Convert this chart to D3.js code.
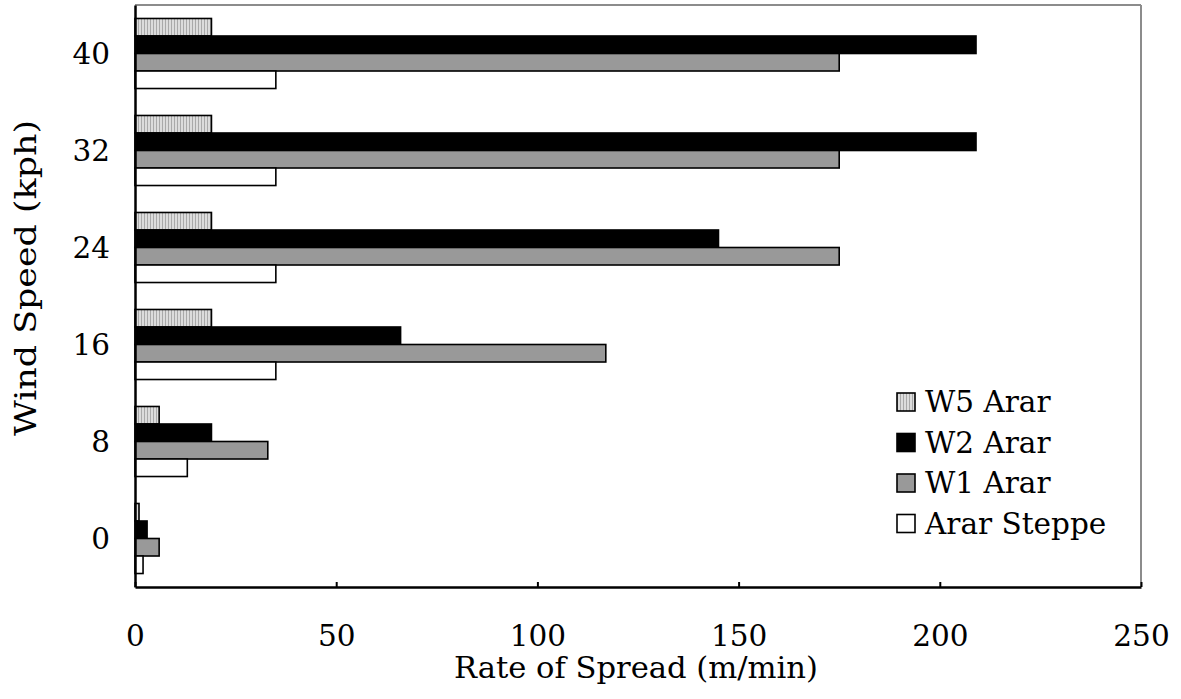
<!DOCTYPE html>
<html>
<head>
<meta charset="utf-8">
<script src="https://cdn.jsdelivr.net/npm/d3@7"></script>
<style>
  html, body { margin: 0; padding: 0; background: #fff; }
  svg { display: block; }
  text { font-family: "DejaVu Serif", serif; fill: #000; }
</style>
</head>
<body>
<svg id="chart" width="1181" height="699"></svg>
<script>
// Wind speed categories (top to bottom) and rate-of-spread series (m/min)
const windSpeeds = ["40", "32", "24", "16", "8", "0"];
const seriesNames = ["W5 Arar", "W2 Arar", "W1 Arar", "Arar Steppe"];
const w5Arar      = [19, 19, 19, 19, 6, 1];
const w2Arar      = [209, 209, 145, 66, 19, 3];
const w1Arar      = [175, 175, 175, 117, 33, 6];
const ararSteppe  = [35, 35, 35, 35, 13, 2];
const xTicks = [0, 50, 100, 150, 200, 250];

const seriesValues = [w5Arar, w2Arar, w1Arar, ararSteppe];
const fills = ["url(#stripes)", "#000000", "#999999", "#ffffff"];

const svg = d3.select("#chart");
const margin = { left: 135, right: 1141, top: 5, bottom: 587 };
const fontSize = "29.5px";

// Fine vertical stripe fill for the W5 series
const defs = svg.append("defs");
const pat = defs.append("pattern")
  .attr("id", "stripes")
  .attr("patternUnits", "userSpaceOnUse")
  .attr("width", 3).attr("height", 3);
pat.append("rect").attr("width", 3).attr("height", 3).attr("fill", "#dcdcdc");
pat.append("rect").attr("x", 0).attr("width", 1).attr("height", 3).attr("fill", "#a9a9a9");

const x = d3.scaleLinear().domain([0, 250]).range([margin.left, margin.right]);
const y = d3.scaleBand().domain(windSpeeds)
  .range([margin.top, margin.bottom])
  .paddingInner(0.278).paddingOuter(0.139);
const ySub = d3.scaleBand().domain(seriesNames).range([0, y.bandwidth()]);

// Plot frame: grey top/right border
svg.append("line")
  .attr("x1", margin.left).attr("x2", margin.right)
  .attr("y1", margin.top).attr("y2", margin.top)
  .attr("stroke", "#8c8c8c").attr("stroke-width", 2);
svg.append("line")
  .attr("x1", margin.right).attr("x2", margin.right)
  .attr("y1", margin.top).attr("y2", margin.bottom)
  .attr("stroke", "#8c8c8c").attr("stroke-width", 2);

// Bars
const rows = windSpeeds.map((w, i) => ({ w, vals: seriesValues.map((s, j) => ({ name: seriesNames[j], v: s[i], fill: fills[j] })) }));
const groups = svg.append("g").selectAll("g").data(rows).join("g")
  .attr("transform", d => `translate(0,${y(d.w)})`);
groups.selectAll("rect").data(d => d.vals).join("rect")
  .attr("x", x(0))
  .attr("y", d => ySub(d.name))
  .attr("width", d => x(d.v) - x(0))
  .attr("height", ySub.bandwidth())
  .attr("fill", d => d.fill)
  .attr("stroke", "#000")
  .attr("stroke-width", 1.6);

// X axis with inward ticks
const xAxis = svg.append("g")
  .attr("transform", `translate(0,${margin.bottom})`)
  .call(d3.axisBottom(x).tickValues(xTicks).tickSizeInner(-5).tickSizeOuter(0).tickPadding(0));
xAxis.select(".domain").attr("stroke", "#000").attr("stroke-width", 2.5);
xAxis.selectAll(".tick line").attr("stroke", "#000").attr("stroke-width", 2);
xAxis.selectAll(".tick text")
  .attr("y", 59).attr("dy", null)
  .style("font-family", "DejaVu Serif").style("font-size", fontSize);

// Y axis
const yAxis = svg.append("g")
  .attr("transform", `translate(${margin.left},0)`)
  .call(d3.axisLeft(y).tickSize(0).tickPadding(0));
yAxis.select(".domain").attr("stroke", "#000").attr("stroke-width", 2.5);
yAxis.selectAll(".tick text")
  .attr("x", -25).attr("dy", "0.36em")
  .style("font-family", "DejaVu Serif").style("font-size", fontSize);

// Axis titles
svg.append("text")
  .attr("x", 636).attr("y", 678)
  .attr("text-anchor", "middle")
  .attr("textLength", 364).attr("lengthAdjust", "spacingAndGlyphs")
  .style("font-size", fontSize)
  .text("Rate of Spread (m/min)");
svg.append("text")
  .attr("transform", "translate(36,278) rotate(-90)")
  .attr("text-anchor", "middle")
  .attr("textLength", 316).attr("lengthAdjust", "spacingAndGlyphs")
  .style("font-size", fontSize)
  .text("Wind Speed (kph)");

// Legend
const legend = svg.append("g").selectAll("g").data(seriesNames).join("g")
  .attr("transform", (d, i) => `translate(897,${393 + i * 40.5})`);
legend.append("rect")
  .attr("width", 18).attr("height", 18)
  .attr("fill", (d, i) => fills[i])
  .attr("stroke", "#000").attr("stroke-width", 1.6);
legend.append("text")
  .attr("x", 28).attr("y", 19)
  .style("font-size", fontSize)
  .text(d => d);
</script>
</body>
</html>
